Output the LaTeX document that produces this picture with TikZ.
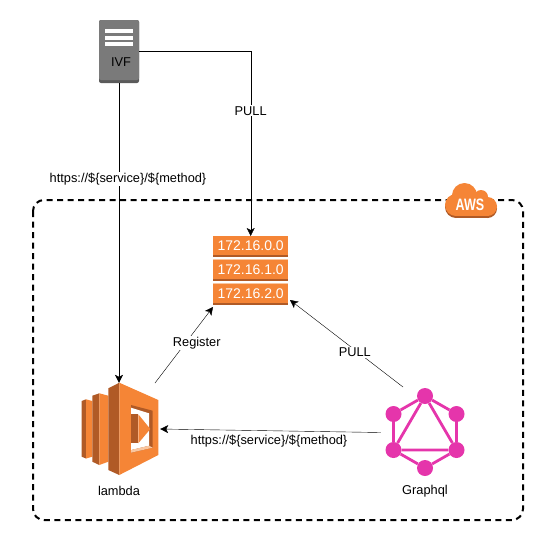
\documentclass[tikz,border=0pt]{standalone}
\usepackage{fontspec}
\setmainfont{Liberation Sans}
\usepackage{xcolor}
\definecolor{Pumpkin}{HTML}{F58536}
\definecolor{Rust}{HTML}{B05A26}
\definecolor{Peach}{HTML}{F9C6A0}
\definecolor{Steel}{HTML}{7A7A7A}
\definecolor{Graphite}{HTML}{5A5A5A}
\definecolor{Rhodamine}{HTML}{E535AB}
\colorlet{cOrange}{Pumpkin}
\colorlet{cDark}{Rust}
\colorlet{cPink}{Rhodamine}
\usetikzlibrary{arrows.meta, positioning}
\tikzset{
	x = 1pt,
	y = -1pt,
	line width = 1pt,
	>={Stealth[length=8pt,width=8pt,inset=2pt]},
	font = \fontsize{12.8}{14}\selectfont,
	tag/.style={
		fill=white,
		inner sep=1pt
	},
	edge/.style={
		->,
		draw=black
	},
	subnet/.style={
		fill=cOrange,
		text=white,
		minimum width=75pt,
		minimum height=19pt,
		inner sep=0pt,
		font=\fontsize{14}{16}\selectfont
	},
	gqlball/.style={
		circle,
		fill=cPink,
		minimum size=16pt,
		inner sep=0pt
	},
	gqlbar/.style={
		draw=cPink,
		line width=2.8pt
	}
}
\begin{document}
\begin{tikzpicture}
	\useasboundingbox (0,0) rectangle (551,541);

	% aws box
	\draw[line width=2pt, dash pattern=on 6pt off 4.5pt, rounded corners=11pt] (33,200) rectangle (523,520);

	% cloud
	\foreach \dy/\col in {2/cDark,0/cOrange} {
		\fill[\col] (456,205+\dy) circle (11);
		\fill[\col] (464.5,195.5+\dy) circle (12.5);
		\fill[\col] (481,197+\dy) circle (7);
		\fill[\col] (487.5,206.5+\dy) circle (9.5);
		\fill[\col] (456,200+\dy) rectangle (488,216+\dy);
	}
	\node[text=white, xscale=.76, font=\fontsize{16.5}{18}\selectfont\bfseries] (aws) at (470,204.5) {AWS};

	% ivf server
	\fill[Graphite, rounded corners=2pt] (99,20) rectangle (139,83);
	\node[fill=Steel, rounded corners=2pt, minimum width=40pt, minimum height=60pt, inner sep=0pt] (ivfbody) at (119,50) {};
	\node[fill=none, minimum width=40pt, minimum height=63pt, inner sep=0pt] (ivf) at (119,51.5) {};
	\foreach \y in {29,35.5,42} {
		\fill[white] (105,\y) rectangle (133,\y+4.2);
	}
	\node[text=black] (ivflabel) at (121,62) {IVF};

	% subnets
	\foreach \y/\n/\t in {236/ip0/172.16.0.0,260/ip1/172.16.1.0,284/ip2/172.16.2.0} {
		\fill[cDark] (213,\y+18) rectangle (288,\y+21);
		\node[subnet, anchor=north west] (\n) at (213,\y) {\t};
	}
	\fill[Peach] (213,258.5) rectangle (288,260);
	\fill[Peach] (213,282.5) rectangle (288,284);

	% lambda
	\fill[cDark] (81.7,401) -- (86,399.3) -- (86,458.5) -- (81.7,456.7) -- cycle;
	\fill[cOrange] (86,399.3) -- (92.3,401) -- (92.3,456.7) -- (86,458.5) -- cycle;
	\fill[cDark] (92.3,395.7) -- (99.3,393.3) -- (99.3,465) -- (92.3,461.7) -- cycle;
	\fill[cOrange] (99.3,393.3) -- (108.3,395.7) -- (108.3,461.7) -- (99.3,465) -- cycle;
	\fill[cDark] (108.3,388.3) -- (119.3,382.7) -- (119.3,475) -- (108.3,470) -- cycle;
	\fill[cOrange] (119.3,382.7) -- (158.3,400) -- (158.3,455) -- (119.3,475) -- cycle;
	\fill[cDark] (131,405) -- (152.7,410.7) -- (152.7,447.7) -- (131,452.7) -- cycle;
	\fill[white] (131,407.7) -- (149,413.3) -- (149,445.7) -- (131,450) -- cycle;
	\fill[Peach] (131,450) -- (149,445.7) -- (152.7,447.7) -- (131,452.7) -- cycle;
	\fill[cDark] (131,414.3) rectangle (138.3,443.3);
	\fill[cOrange] (138.3,414.3) -- (150.3,429) -- (138.3,443.3) -- cycle;
	\node[minimum width=82pt, minimum height=92pt, inner sep=0pt] (lambda) at (119,429) {};
	\node (lambdalabel) at (119,491) {lambda};

	% graphql
	\node[minimum width=88pt, minimum height=72pt, inner sep=0pt] (gql) at (425,432.5) {};
	\foreach \n/\x/\y in {g0/425/396,g1/393.5/414,g2/456.5/414,g3/393.5/450,g4/456.5/450,g5/425/468} {
		\node[gqlball] (\n) at (\x,\y) {};
	}
	\draw[gqlbar] (g0) -- (g1) -- (g3) -- (g5) -- (g4) -- (g2) -- (g0);
	\draw[gqlbar] (g0) -- (g3) -- (g4) -- (g0);
	\node (gqllabel) at (425,491) {Graphql};

	% free ends
	\coordinate (regstart) at (155,383);
	\coordinate (regend) at (213,307);
	\coordinate (pullstart) at (403,387);
	\coordinate (pullend) at (290,300);

	\draw[edge] (ivf.south) -- (lambda.north) node[tag, pos=.32, xshift=9pt] {https://\$\{service\}/\$\{method\}};
	\draw[edge] (ivf.east) -| (ip0.north) node[tag, pos=.661] {PULL};
	\draw[edge] (regstart) -- (regend) node[tag, pos=.53, xshift=11pt] {Register};
	\draw[edge] (pullstart) -- (pullend) node[tag, pos=.4, xshift=-3pt] {PULL};
	\draw[edge] (gql.west) -- (lambda.east);
	\node (calllabel) at (269,441) {https://\$\{service\}/\$\{method\}};
\end{tikzpicture}
\end{document}
